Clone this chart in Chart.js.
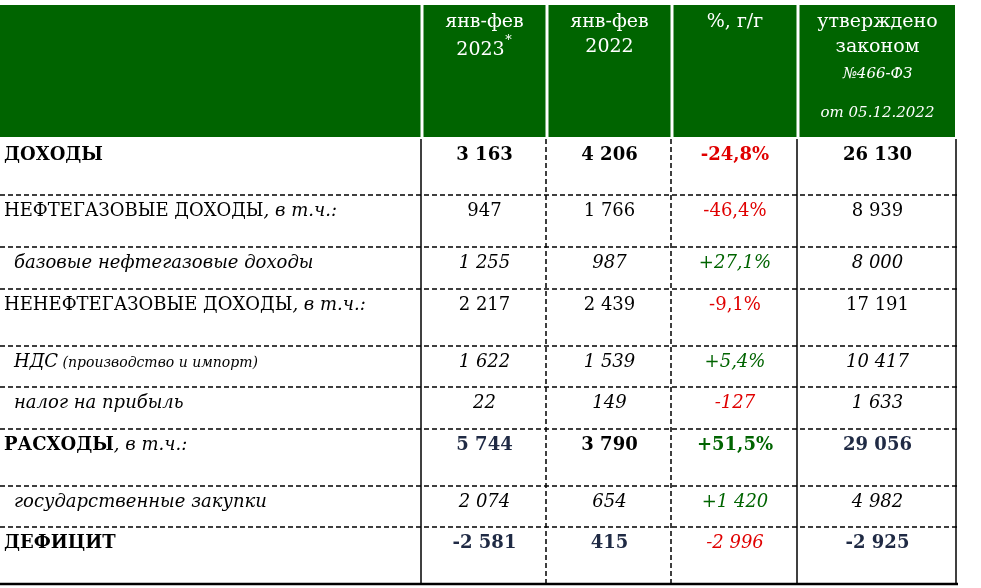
<!DOCTYPE html>
<html><head><meta charset="utf-8">
<script src="https://cdn.jsdelivr.net/npm/chart.js@4"></script>
<style>body{margin:0;background:#fff}canvas{display:block}</style>
</head><body>
<canvas id="tbl" width="981" height="588"></canvas>
<script>
// table data
var rowLabels = ["ДОХОДЫ", "НЕФТЕГАЗОВЫЕ ДОХОДЫ", "базовые нефтегазовые доходы", "НЕНЕФТЕГАЗОВЫЕ ДОХОДЫ",
    "НДС", "налог на прибыль", "РАСХОДЫ", "государственные закупки", "ДЕФИЦИТ"];
var rowSuffix = ["", ", в т.ч.:", "", ", в т.ч.:", " (производство и импорт)", "", ", в т.ч.:", "", ""];
var jf2023 = ["3 163", "947", "1 255", "2 217", "1 622", "22", "5 744", "2 074", "-2 581"];
var jf2022 = ["4 206", "1 766", "987", "2 439", "1 539", "149", "3 790", "654", "415"];
var pctYoY = ["-24,8%", "-46,4%", "+27,1%", "-9,1%", "+5,4%", "-127", "+51,5%", "+1 420", "-2 996"];
var law466 = ["26 130", "8 939", "8 000", "17 191", "10 417", "1 633", "29 056", "4 982", "-2 925"];

// layout (pixels in the 981x588 frame)
var colEdges = [0, 422, 547, 672, 798, 957];
var rowEdges = [139, 195, 247, 289, 346, 387, 429, 486, 527, 584];
var boldRows = [0, 6, 8];
var italicRows = [2, 4, 5, 7];
var navyRows = [6, 8];

var F = '"DejaVu Serif", "Liberation Serif", serif';

var tablePlugin = {
    id: "tablePlugin",
    afterDraw: function(chart) {
        var ctx = chart.ctx, xs = chart.scales.x, ys = chart.scales.y;
        var X = function(v) { return xs.getPixelForValue(v); };
        var Y = function(v) { return ys.getPixelForValue(v); };
        ctx.save();
        // header
        ctx.fillStyle = "#006400";
        ctx.fillRect(X(0), Y(5), X(955) - X(0), Y(137) - Y(5));
        ctx.fillStyle = "#fff";
        for (var i = 1; i < colEdges.length - 1; i++) ctx.fillRect(X(colEdges[i]) - 1.5, Y(5), 3, Y(137) - Y(5));
        ctx.textAlign = "center";
        ctx.textBaseline = "alphabetic";
        ctx.font = "19px " + F;
        var cx = function(c) { return (X(colEdges[c]) + X(colEdges[c + 1])) / 2; };
        ctx.fillText("янв-фев", cx(1), Y(27));
        ctx.fillText("2023", cx(1) - 4, Y(55));
        ctx.font = "13px " + F; ctx.fillText("*", cx(1) + 24, Y(44));
        ctx.font = "19px " + F;
        ctx.fillText("янв-фев", cx(2), Y(27));
        ctx.fillText("2022", cx(2), Y(52));
        ctx.fillText("%, г/г", cx(3), Y(27));
        ctx.fillText("утверждено", cx(4), Y(27));
        ctx.fillText("законом", cx(4), Y(52));
        ctx.font = "italic 15px " + F;
        ctx.fillText("№466-ФЗ", cx(4), Y(78));
        ctx.fillText("от 05.12.2022", cx(4), Y(117));

        // body text
        for (var r = 0; r < rowLabels.length; r++) {
            var bold = boldRows.indexOf(r) >= 0, ital = italicRows.indexOf(r) >= 0;
            var base = Y(rowEdges[r] + 21);
            var style = (ital ? "italic " : "") + (bold ? "bold " : "");
            ctx.textAlign = "left";
            ctx.fillStyle = "#000";
            ctx.font = style + "18px " + F;
            var lx = X(ital ? 14 : 4);
            ctx.fillText(rowLabels[r], lx, base);
            var w = ctx.measureText(rowLabels[r]).width;
            if (rowSuffix[r]) {
                ctx.font = "italic " + (r === 4 ? "14px " : "18px ") + F;
                ctx.fillText(rowSuffix[r], lx + w, base);
            }
            var cells = [jf2023[r], jf2022[r], pctYoY[r], law466[r]];
            ctx.textAlign = "center";
            for (var c = 0; c < 4; c++) {
                var b = bold && !(r === 8 && c === 2);
                ctx.font = (ital || (r === 8 && c === 2) ? "italic " : "") + (b ? "bold " : "") + "18px " + F;
                var col = "#000";
                if (navyRows.indexOf(r) >= 0 && c !== 1) col = "#1f2a44";
                if (r === 8) col = "#1f2a44";
                if (c === 2) col = cells[c].charAt(0) === "-" ? "#e00000" : "#006400";
                ctx.fillStyle = col;
                ctx.fillText(cells[c], cx(c + 1), base);
            }
        }

        // grid lines
        ctx.strokeStyle = "#000";
        ctx.lineWidth = 1.5;
        ctx.setLineDash([5, 3]);
        for (var k = 1; k < rowEdges.length - 1; k++) {
            ctx.beginPath(); ctx.moveTo(X(0), Y(rowEdges[k])); ctx.lineTo(X(957), Y(rowEdges[k])); ctx.stroke();
        }
        [2, 3].forEach(function(c) {
            ctx.beginPath(); ctx.moveTo(X(colEdges[c]) - 1, Y(139)); ctx.lineTo(X(colEdges[c]) - 1, Y(584)); ctx.stroke();
        });
        ctx.setLineDash([]);
        [1, 4, 5].forEach(function(c) {
            ctx.beginPath(); ctx.moveTo(X(colEdges[c]) - 1, Y(139)); ctx.lineTo(X(colEdges[c]) - 1, Y(584)); ctx.stroke();
        });
        ctx.lineWidth = 2.5;
        ctx.beginPath(); ctx.moveTo(X(0), Y(584)); ctx.lineTo(X(958), Y(584)); ctx.stroke();
        ctx.restore();
    }
};

new Chart(document.getElementById("tbl"), {
    type: "scatter",
    data: { datasets: [{ data: [] }] },
    options: {
        responsive: false, animation: false,
        layout: { padding: 0 },
        plugins: { legend: { display: false }, tooltip: { enabled: false } },
        scales: {
            x: { type: "linear", min: 0, max: 981, display: false },
            y: { type: "linear", min: 0, max: 588, reverse: true, display: false }
        }
    },
    plugins: [tablePlugin]
});
</script>
</body></html>
